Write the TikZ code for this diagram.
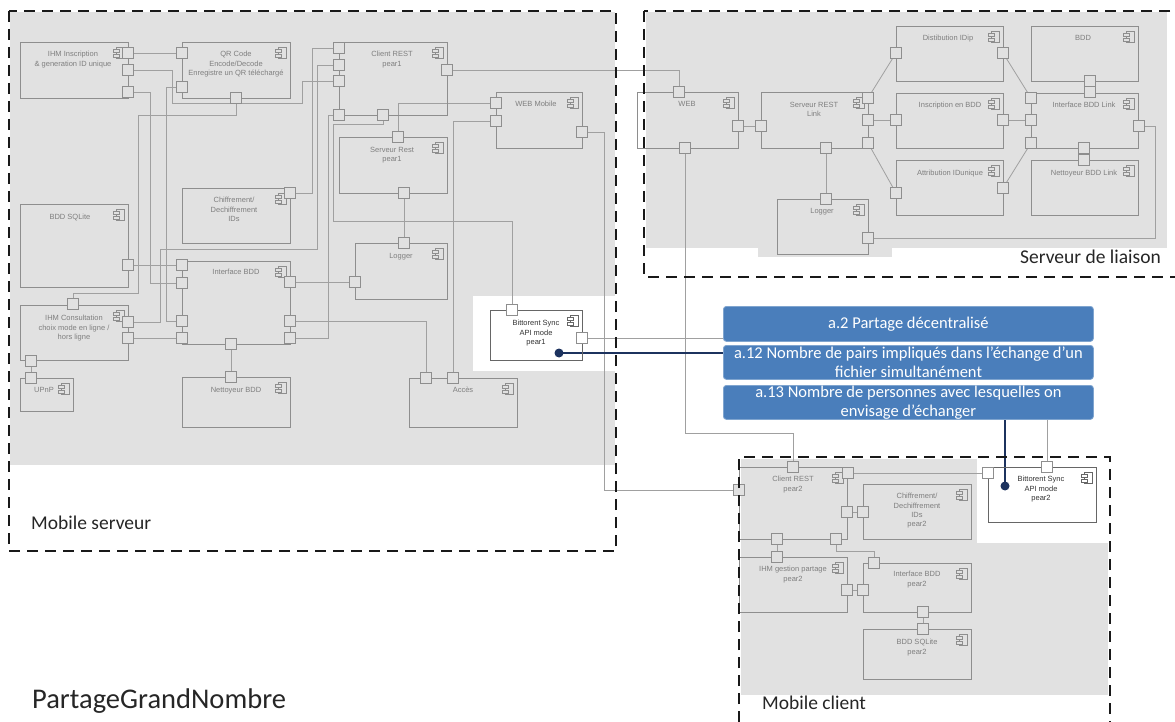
\documentclass[tikz,border=0pt]{standalone}
\usepackage{fontspec}
\setmainfont{Carlito}
\newfontfamily\arial{Liberation Sans}
\usetikzlibrary{fit,backgrounds}
\definecolor{bg}{HTML}{E1E1E1}
\definecolor{boxc}{HTML}{8E8E8E}
\definecolor{wirec}{HTML}{A0A0A0}
\definecolor{txtc}{HTML}{7F7F7F}
\definecolor{bluef}{HTML}{4A7EBB}
\definecolor{navy}{HTML}{1C325E}
\tikzset{
 cbox/.style={draw=boxc, line width=0.8pt, inner sep=0pt},
 port/.style={draw=boxc, line width=0.8pt, fill=bg, minimum size=10.5pt, inner sep=0pt, rectangle},
 portw/.style={port, fill=white},
 wire/.style={draw=wirec, line width=0.8pt},
 ctext/.style={font=\arial\fontsize{7.5}{9.2}\selectfont, text=txtc, align=center, inner sep=0pt, anchor=north},
 ctextw/.style={ctext, text=black!80},
 frame/.style={draw=black!90, line width=2.8pt, dash pattern=on 11pt off 7pt},
 lbl/.style={font=\fontsize{19.5}{22}\selectfont, text=black!85, inner sep=0pt},
 bluebox/.style={fill=bluef, draw=bluef!70!white, line width=0.8pt, rounded corners=3pt, text=white, align=center, font=\fontsize{16.5}{18.6}\selectfont, inner sep=0pt, minimum width=370pt, anchor=north west},
 navyl/.style={draw=navy, line width=1.3pt},
 dotn/.style={circle, fill=navy, minimum size=9pt, inner sep=0pt},
}
% [icon tab fill]{name}{x1}{y1}{x2}{y2}{text x}{text y}{text}
\newcommand\mkcomp[9][bg]{%
 \coordinate (#2-nw) at (#3,#4); \coordinate (#2-se) at (#5,#6);
 \node[cbox, fit=(#2-nw)(#2-se)] (#2) {};
 \draw[boxc, line width=0.7pt] (#5-12,#4+5) rectangle (#5-4,#4+16);
 \draw[boxc, line width=0.7pt, fill=#1] (#5-15,#4+7.5) rectangle (#5-9,#4+10.5);
 \draw[boxc, line width=0.7pt, fill=#1] (#5-15,#4+12) rectangle (#5-9,#4+15);
 \node[ctext] (#2-t) at (#7,#8-2.8) {#9};
}
\newcommand\mkcompw[8]{%
 \coordinate (#1-nw) at (#2,#3); \coordinate (#1-se) at (#4,#5);
 \node[cbox, draw=black!60, fit=(#1-nw)(#1-se)] (#1) {};
 \draw[black!60, line width=0.7pt] (#4-12,#3+5) rectangle (#4-4,#3+16);
 \draw[black!60, line width=0.7pt, fill=white] (#4-15,#3+7.5) rectangle (#4-9,#3+10.5);
 \draw[black!60, line width=0.7pt, fill=white] (#4-15,#3+12) rectangle (#4-9,#3+15);
 \node[ctextw] (#1-t) at (#6,#7-2.8) {#8};
}
\begin{document}
\begin{tikzpicture}[x=1pt,y=-1pt]
\useasboundingbox (0,0) rectangle (1175,722);

% ---------- Mobile serveur components
\mkcomp{ihmi}{20}{42}{128}{98}{73}{54}{IHM Inscription\\\& generation ID unique}
\mkcomp{qr}{182}{42}{290}{98}{236}{54}{QR Code\\Encode/Decode\\Enregistre un QR téléchargé}
\mkcomp{crest}{339}{42}{447}{115}{392}{54}{Client REST\\pear1}
\mkcomp{wmob}{496}{92}{582}{148}{536}{104}{WEB Mobile}
\mkcomp{srest}{339}{137}{447}{193}{392}{150}{Serveur Rest\\pear1}
\mkcomp{chif}{182}{188}{290}{243}{234}{200}{Chiffrement/\\Dechiffrement\\IDs}
\mkcomp{sqlite}{20}{204}{128}{287}{70}{217}{BDD SQLite}
\mkcomp{ibdd}{182}{261}{290}{344}{236}{272}{Interface BDD}
\mkcomp{logm}{355}{243}{447}{299}{401}{256}{Logger}
\mkcomp{ihmc}{20}{305}{128}{360}{74}{318}{IHM Consultation\\choix mode en ligne /\\hors ligne}
\mkcomp{upnp}{20}{378}{73}{411}{44}{390}{UPnP}
\mkcomp{nett}{182}{377}{290}{427}{236}{390}{Nettoyeur BDD}
\mkcomp{acces}{409}{378}{517}{427}{463}{390}{Accès}
\mkcompw{btm}{490}{310}{582}{360}{536}{323}{Bittorent Sync\\API mode\\pear1}

\node[port] (ihmi-p1) at (128,53) {};
\node[port] (ihmi-p2) at (128,70) {};
\node[port] (ihmi-p3) at (128,92) {};
\node[port] (qr-p1) at (182,53) {};
\node[port] (qr-p2) at (182,87) {};
\node[port] (qr-p3) at (236,98) {};
\node[port] (crest-p1) at (339,48) {};
\node[port] (crest-p2) at (339,65) {};
\node[port] (crest-p3) at (339,81) {};
\node[port] (crest-p4) at (339,115) {};
\node[port] (crest-p5) at (383,115) {};
\node[port] (crest-pr) at (447,70) {};
\node[port] (wmob-p1) at (496,103) {};
\node[port] (wmob-p2) at (496,121) {};
\node[port] (wmob-pr) at (582,132) {};
\node[port] (srest-pt) at (398,137) {};
\node[port] (srest-pb) at (404,193) {};
\node[port] (chif-p) at (290,193) {};
\node[port] (sqlite-p) at (128,265) {};
\node[port] (ibdd-l1) at (182,265) {};
\node[port] (ibdd-l2) at (182,283) {};
\node[port] (ibdd-l3) at (182,321) {};
\node[port] (ibdd-l4) at (182,338) {};
\node[port] (ibdd-r1) at (290,282) {};
\node[port] (ibdd-r2) at (290,321) {};
\node[port] (ibdd-r3) at (290,338) {};
\node[port] (ibdd-b) at (231,344) {};
\node[port] (logm-t) at (404,243) {};
\node[port] (logm-l) at (355,282) {};
\node[port] (ihmc-t) at (73,304) {};
\node[port] (ihmc-r1) at (128,322) {};
\node[port] (ihmc-r2) at (128,338) {};
\node[port] (ihmc-bl) at (31,361) {};
\node[port] (upnp-t) at (31,378) {};
\node[port] (nett-t) at (231,377) {};
\node[port] (acces-t1) at (426,378) {};
\node[port] (acces-t2) at (453,378) {};
\node[portw] (btm-t) at (512,310) {};
\node[portw] (btm-r) at (582,338) {};

% ---------- Serveur de liaison components
\mkcomp{web}{637}{92}{738}{148}{687}{104}{WEB}
\mkcomp{srl}{761}{92}{868}{148}{814}{105}{Serveur REST\\Link}
\mkcomp{logl}{777}{199}{868}{254}{822}{211}{Logger}
\mkcomp{dist}{896}{26}{1003}{81}{948}{38}{Distibution IDip}
\mkcomp{insc}{896}{93}{1003}{148}{950}{105}{Inscription en BDD}
\mkcomp{attr}{896}{160}{1003}{215}{950}{173}{Attribution IDunique}
\mkcomp{bdd}{1031}{26}{1138}{81}{1083}{38}{BDD}
\mkcomp{ibl}{1031}{93}{1138}{148}{1084}{105}{Interface BDD Link}
\mkcomp{nbl}{1031}{160}{1138}{215}{1084}{173}{Nettoyeur BDD Link}

\node[port] (web-t) at (679,92) {};
\node[port] (web-r) at (738,126) {};
\node[port] (web-b) at (685,148) {};
\node[port] (srl-l) at (761,126) {};
\node[port] (srl-r1) at (868,98) {};
\node[port] (srl-r2) at (868,120) {};
\node[port] (srl-r3) at (868,143) {};
\node[port] (srl-b) at (826,148) {};
\node[port] (logl-t) at (826,199) {};
\node[port] (logl-r) at (868,238) {};
\node[port] (dist-l) at (896,53) {};
\node[port] (dist-r) at (1003,53) {};
\node[port] (insc-l) at (896,120) {};
\node[port] (insc-r) at (1003,120) {};
\node[port] (attr-l) at (896,193) {};
\node[port] (attr-r) at (1003,188) {};
\node[port] (bdd-b) at (1090,81) {};
\node[port] (ibl-t) at (1090,92) {};
\node[port] (ibl-l1) at (1031,98) {};
\node[port] (ibl-l2) at (1031,120) {};
\node[port] (ibl-l3) at (1031,143) {};
\node[port] (ibl-r) at (1139,126) {};
\node[port] (ibl-b) at (1084,148) {};
\node[port] (nbl-t) at (1084,160) {};

% ---------- Mobile client components
\mkcomp{crp}{739}{467}{847}{539}{793}{479}{Client REST\\pear2}
\mkcomp{chp}{863}{484}{971}{539}{917}{496}{Chiffrement/\\Dechiffrement\\IDs\\pear2}
\mkcomp{ihp}{739}{557}{847}{612}{793}{569}{IHM gestion partage\\pear2}
\mkcomp{ibp}{863}{563}{971}{612}{917}{574}{Interface BDD\\pear2}
\mkcomp{bsp}{863}{629}{971}{679}{917}{642}{BDD SQLite\\pear2}
\mkcompw{btp}{988}{467}{1096}{522}{1041}{479}{Bittorent Sync\\API mode\\pear2}

\node[port] (crp-t) at (793,467) {};
\node[port] (crp-l) at (739,490) {};
\node[port] (crp-r1) at (848,473) {};
\node[port] (crp-r2) at (847,512) {};
\node[port] (crp-bl) at (777,539) {};
\node[port] (crp-br) at (836,539) {};
\node[port] (chp-l) at (863,512) {};
\node[port] (ihp-t) at (777,557) {};
\node[port] (ihp-r) at (847,590) {};
\node[port] (ibp-t) at (874,563) {};
\node[port] (ibp-l) at (863,590) {};
\node[port] (ibp-b) at (923,612) {};
\node[port] (bsp-t) at (923,629) {};
\node[portw] (btp-l) at (988,473) {};
\node[portw] (btp-t) at (1047,467) {};

% ---------- requirement boxes
\node[bluebox, minimum height=35pt] (a2) at (723,306) {a.2 Partage décentralisé};
\node[bluebox, minimum height=34pt] (a12) at (723,345) {a.12 Nombre de pairs impliqués dans l’échange d’un\\fichier simultanément};
\node[bluebox, minimum height=34pt] (a13) at (723,385) {a.13 Nombre de personnes avec lesquelles on\\envisage d’échanger};
\node[dotn] (d1) at (559,353) {};
\node[dotn] (d2) at (1005,486) {};

% ---------- background: areas and wires
\begin{pgfonlayer}{background}
\fill[white] (0,0) rectangle (1175,722);
\fill[bg] (10,12) rectangle (615,465);
\fill[white] (473,296) rectangle (617,371);
\fill[bg] (646,12) rectangle (1167,248);
\fill[bg] (758,247) rectangle (892,257);
\fill[bg] (741,459) rectangle (1108,695);
\fill[white] (977,459) rectangle (1108,543);

\draw[wire] (ihmi-p1.center) -- (qr-p1.center);
\draw[wire] (ihmi-p2.center) -- (172,70) -- (172,103) -- (302,103) -- (302,81) -- (crest-p3.center);
\draw[wire] (ihmi-p3.center) -- (150,92) -- (150,283) -- (ibdd-l2.center);
\draw[wire] (qr-p2.center) -- (166,87) -- (166,321) -- (ibdd-l3.center);
\draw[wire] (qr-p3.center) -- (236,115) -- (138,115) -- (138,293) -- (73,293) -- (ihmc-t.center);
\draw[wire] (chif-p.center) -- (312,193) -- (312,48) -- (crest-p1.center);
\draw[wire] (ihmc-r1.center) -- (160,322) -- (160,249) -- (317,249) -- (317,65) -- (crest-p2.center);
\draw[wire] (ihmc-r2.center) -- (ibdd-l4.center);
\draw[wire] (sqlite-p.center) -- (ibdd-l1.center);
\draw[wire] (ihmc-bl.center) -- (upnp-t.center);
\draw[wire] (ibdd-b.center) -- (nett-t.center);
\draw[wire] (ibdd-r1.center) -- (logm-l.center);
\draw[wire] (ibdd-r2.center) -- (426,321) -- (acces-t1.center);
\draw[wire] (ibdd-r3.center) -- (328,338) -- (328,115) -- (crest-p4.center);
\draw[wire] (crest-p5.center) -- (383,124) -- (333,124) -- (333,221) -- (512,221) -- (btm-t.center);
\draw[wire] (srest-pt.center) -- (398,103) -- (wmob-p1.center);
\draw[wire] (srest-pb.center) -- (logm-t.center);
\draw[wire] (wmob-p2.center) -- (453,121) -- (acces-t2.center);
\draw[wire] (wmob-pr.center) -- (604,132) -- (604,490) -- (crp-l.center);
\draw[wire] (crest-pr.center) -- (679,70) -- (web-t.center);

\draw[wire] (web-r.center) -- (srl-l.center);
\draw[wire] (web-b.center) -- (685,433) -- (793,433) -- (crp-t.center);
\draw[wire] (srl-r1.center) -- (dist-l.center);
\draw[wire] (srl-r2.center) -- (insc-l.center);
\draw[wire] (srl-r3.center) -- (attr-l.center);
\draw[wire] (dist-r.center) -- (ibl-l1.center);
\draw[wire] (insc-r.center) -- (ibl-l2.center);
\draw[wire] (attr-r.center) -- (ibl-l3.center);
\draw[wire] (srl-b.center) -- (logl-t.center);
\draw[wire] (logl-r.center) -- (1155,238) -- (1155,126) -- (ibl-r.center);
\draw[wire] (bdd-b.center) -- (ibl-t.center);
\draw[wire] (ibl-b.center) -- (nbl-t.center);

\draw[wire] (crp-r1.center) -- (btp-l.center);
\draw[wire] (crp-r2.center) -- (chp-l.center);
\draw[wire] (crp-bl.center) -- (ihp-t.center);
\draw[wire] (crp-br.center) -- (836,551) -- (874,551) -- (ibp-t.center);
\draw[wire] (ihp-r.center) -- (ibp-l.center);
\draw[wire] (ibp-b.center) -- (bsp-t.center);

\draw[wire] (btm-r.center) -- (btm-r.center -| a2.west);
\draw[wire] (btp-t.center) -- (btp-t.center |- a13.south);
\draw[navyl] (d1.center) -- (d1.center -| a12.west);
\draw[navyl] (d2.center) -- (d2.center |- a13.south);
\end{pgfonlayer}

% ---------- frames and labels
\draw[frame] (9,11) rectangle (616,551);
\draw[frame] (644,11) rectangle (1190,277);
\draw[frame] (739,740) -- (739,457) -- (1110,457) -- (1110,740);

\node[lbl, anchor=west] (lms) at (31,523) {Mobile serveur};
\node[lbl, anchor=east] (lsl) at (1161,257) {Serveur de liaison};
\node[lbl, anchor=west] (lmc) at (762,703) {Mobile client};
\node[font=\fontsize{28.5}{32}\selectfont, text=black!85, anchor=west, inner sep=0pt] (title) at (32,701) {PartageGrandNombre};
\end{tikzpicture}
\end{document}
